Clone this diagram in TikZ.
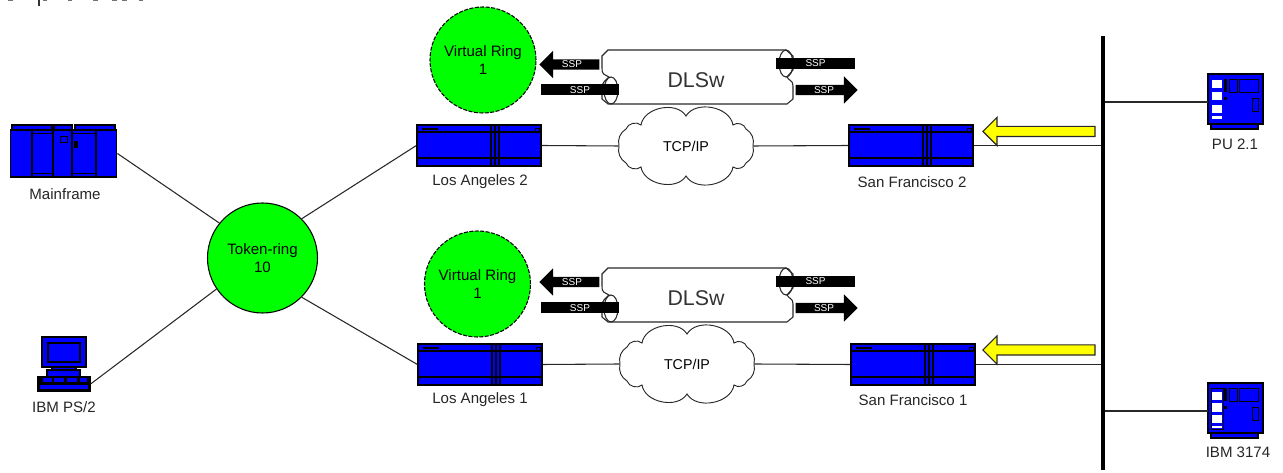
\documentclass[tikz,border=0pt]{standalone}
\usepackage{fontspec}
\setmainfont{Liberation Sans}
\usetikzlibrary{shapes.arrows}

\definecolor{devblue}{RGB}{0,0,255}
\definecolor{ringgreen}{RGB}{0,255,0}
\definecolor{flowyellow}{RGB}{255,255,0}
\definecolor{darkline}{RGB}{40,40,40}

\tikzset{
  devbox/.style={draw=black,fill=devblue,line width=0.9pt,inner sep=0pt},
  devdetail/.style={draw=black,line width=0.9pt},
  link/.style={draw=darkline,line width=0.8pt},
  ringnode/.style={circle,draw=black,fill=ringgreen,line width=0.8pt,inner sep=0pt,minimum size=#1*0.75pt,align=center,font=\fontsize{11.3}{13.5}\selectfont},
  vring/.style={ringnode=#1,dash pattern=on 3pt off 1.1pt},
  devlabel/.style={align=left,text=black!85,font=\fontsize{11.3}{13.5}\selectfont},
  ssparrow/.style={single arrow,fill=black,text=white,inner sep=1pt,minimum height=#1*0.75pt,minimum width=20.25pt,single arrow head extend=6.4pt,single arrow tip angle=90,font=\fontsize{7.5}{8}\selectfont},
  sspbar/.style={rectangle,fill=black,text=white,inner sep=0pt,minimum width=#1*0.75pt,minimum height=8.25pt,font=\fontsize{7.5}{8}\selectfont},
  flowarrow/.style={single arrow,shape border rotate=180,draw=darkline,fill=flowyellow,line width=0.8pt,inner sep=0pt,minimum height=84pt,minimum width=20.25pt,single arrow head extend=6.75pt,single arrow tip angle=90},
  cloudtext/.style={inner sep=0pt,minimum width=100.5pt,minimum height=60pt,font=\fontsize{10.7}{12}\selectfont},
}

% router, #2 #3 = top left corner
\newcommand{\routerunit}[3]{%
\begin{scope}[shift={(#2,#3)}]
\node [devbox,minimum width=93pt,minimum height=30.75pt] (#1) at (62,20.5) {};
\draw [devdetail] (0,7) -- (124,7) ;
\draw [devdetail] (0,33) -- (124,33) ;
\draw [devdetail] (74,0) -- (74,41) (78,0) -- (78,41) (82,0) -- (82,41) ;
\fill (5,3) -- (21,3) -- (21,5) -- (5,5) -- cycle ;
\draw [line width=0.6pt] (118,3) -- (122,3) -- (122,6) -- (118,6) -- cycle ;
\end{scope}}

% controller, #2 #3 = top left corner
\newcommand{\ctrlunit}[3]{%
\begin{scope}[shift={(#2,#3)}]
\draw [devbox] (3,50) -- (50,50) -- (50,55) -- (3,55) -- cycle ;
\node [devbox,minimum width=41.25pt,minimum height=37.5pt] (#1) at (27.5,25) {};
\fill (16,5) -- (19,5) -- (19,18) -- (16,18) -- cycle ;
\draw [devdetail,line width=0.7pt] (21,5) -- (29,5) -- (29,18) -- (21,18) -- cycle ;
\draw [devdetail,line width=0.7pt] (31,5) -- (50,5) -- (50,18) -- (31,18) -- cycle ;
\draw [devdetail,line width=0.7pt] (44,24) -- (50,24) -- (50,37) -- (44,37) -- cycle ;
\fill (16,23) -- (19,23) -- (19,26) -- (16,26) -- cycle ;
\end{scope}}

% tunnel, #2 = top edge
\newcommand{\dlswtube}[2]{%
\begin{scope}[shift={(0,#2)}]
\draw [fill=white,draw=darkline,line width=0.8pt] (608,0) -- (786,0) -- (793,6) -- (793,20) -- (787,27) .. controls (789,31) and (793,30) .. (793,36) -- (793,49) -- (787,54) -- (608,54) -- (602,49) -- (602,38) .. controls (602,32) and (606,30) .. (609,27) .. controls (604,24) and (602,25) .. (602,18) -- (602,6) -- cycle ;
\draw [darkline,line width=0.8pt] (786,13.5) ellipse (7 and 13.5) ;
\draw [darkline,line width=0.8pt] (611,40.5) ellipse (7 and 13.5) ;
\node [font=\fontsize{16}{18}\selectfont,text=black!80] (#1) at (696,30) {DLSw};
\end{scope}}

% cloud, #2 #3 = centre
\newcommand{\tcpcloud}[3]{%
\begin{scope}[shift={(#2,#3)}]
\draw [fill=white,draw=darkline,line width=0.7pt] (-67,0) to[bend right=35] (-60,-17) to[bend right=55] (-45,-21) to[bend right=70] (0,-30) to[bend right=70] (47,-21) to[bend right=55] (60,-17) to[bend right=35] (67,0) to[bend right=35] (60,17) to[bend right=55] (47,21) to[bend right=70] (0,30) to[bend right=70] (-45,21) to[bend right=55] (-60,17) to[bend right=35] (-67,0) -- cycle ;
\node [cloudtext] (#1) at (0,0) {TCP/IP};
\end{scope}}

\begin{document}
\begin{tikzpicture}[x=0.75pt,y=0.75pt,yscale=-1,xscale=1]
\path [use as bounding box] (0,0) rectangle (1283,473);

% cut off heading
\foreach \a/\b in {8/13,43/47,68/72,93/98,112/117,122/127,139/143} {
\fill [black!55] (\a,0) -- (\b,0) -- (\b,1.5) -- (\a,1.5) -- cycle ;
}
\fill [black!80] (37.5,0) -- (40,0) -- (40,6) -- (37.5,6) -- cycle ;

% Mainframe
\node [devbox,minimum width=80pt,minimum height=35.25pt] (mainframe) at (63.5,153.5) {};
\draw [devbox] (12,125) -- (52,125) -- (52,130) -- (12,130) -- cycle ;
\draw [devbox] (54,125) -- (72,125) -- (72,130) -- (54,130) -- cycle ;
\draw [devbox] (75,125) -- (115,125) -- (115,130) -- (75,130) -- cycle ;
\draw [devdetail] (32,130) -- (32,177) (53,125) -- (53,178) (72,125) -- (72,178) (96,130) -- (96,177) ;
\draw [devdetail,line width=0.7pt] (32,133) -- (53,133) (32,173) -- (53,173) (72,133) -- (96,133) (72,173) -- (96,173) ;
\draw [devdetail,line width=0.7pt] (60,136) -- (67,136) -- (67,142) -- (60,142) -- cycle ;
\fill (74,141) -- (77.5,141) -- (77.5,148) -- (74,148) -- cycle ;

% IBM PS/2
\draw [devbox] (42,337) -- (86,337) -- (86,367) -- (42,367) -- cycle ;
\draw [devdetail] (48,343) -- (80,343) -- (80,362) -- (48,362) -- cycle ;
\draw [devbox] (52,367) -- (76,367) -- (76,370) -- (52,370) -- cycle ;
\draw [devbox] (47,370) -- (80,370) -- (80,377) -- (47,377) -- cycle ;
\node [devbox,fill=black,minimum width=39pt,minimum height=11.25pt] (ps2) at (64,384) {};
\fill [devblue] (43,378) -- (52,378) -- (52,382) -- (43,382) -- cycle ;
\fill [devblue] (54,378) -- (64,378) -- (64,382) -- (54,382) -- cycle ;
\fill [devblue] (67,378) -- (77,378) -- (77,382) -- (67,382) -- cycle ;
\fill [devblue] (80,378) -- (87,378) -- (87,382) -- (80,382) -- cycle ;
\fill [devblue] (40,385) -- (88,385) -- (88,389) -- (40,389) -- cycle ;

% Rings
\node [ringnode=110] (token ring) at (262.5,258) {Token-ring\\10};
\node [vring=106] (virtual ring 2) at (483,60) {Virtual Ring\\1};
\node [vring=106] (virtual ring 1) at (477.5,284) {Virtual Ring\\1};

% Routers
\routerunit{la2}{417}{125}
\routerunit{la1}{418}{344}
\routerunit{sf2}{849}{125}
\routerunit{sf1}{851}{344}

% Clouds
\tcpcloud{tcp2}{686}{146}
\tcpcloud{tcp1}{687}{364}

% Tunnels
\dlswtube{dlsw2}{50}
\dlswtube{dlsw1}{268}

% SSP arrows
\node [ssparrow=60,shape border rotate=180] (ssp2a) at (572,64.5) {SSP};
\node [sspbar=78] (ssp2b) at (580,90) {SSP};
\node [sspbar=79] (ssp2c) at (815.5,63.5) {SSP};
\node [ssparrow=62] (ssp2d) at (824,90) {SSP};
\node [ssparrow=60,shape border rotate=180] (ssp1a) at (572,282) {SSP};
\node [sspbar=78] (ssp1b) at (580,308) {SSP};
\node [sspbar=79] (ssp1c) at (815.5,281.5) {SSP};
\node [ssparrow=62] (ssp1d) at (824,308) {SSP};

% Bus
\node [rectangle,fill=black,inner sep=0pt,minimum width=3pt,minimum height=325.5pt] (bus) at (1103,253) {};

% Controllers
\ctrlunit{pu}{1208}{74}
\fill [white] (1212,80) -- (1222,80) -- (1222,88) -- (1212,88) -- cycle ;
\fill [white] (1212,92) -- (1222,92) -- (1222,100) -- (1212,100) -- cycle ;
\fill [white] (1212,105) -- (1222,105) -- (1222,113) -- (1212,113) -- cycle ;
\fill [white] (1212,116) -- (1222,116) -- (1222,119) -- (1212,119) -- cycle ;
\ctrlunit{cu}{1208}{383}
\draw [devdetail,line width=0.7pt] (1211,388) -- (1223,388) -- (1223,429) -- (1211,429) -- cycle ;
\fill [white] (1212,392) -- (1222,392) -- (1222,400) -- (1212,400) -- cycle ;
\fill [white] (1212,403) -- (1222,403) -- (1222,412) -- (1212,412) -- cycle ;
\fill [white] (1212,415) -- (1222,415) -- (1222,423) -- (1212,423) -- cycle ;
\fill [white] (1212,426) -- (1222,426) -- (1222,428) -- (1212,428) -- cycle ;

% Yellow arrows
\node [flowarrow] (flow2) at (1041.5,131.5) {\rule{0pt}{6.75pt}};
\node [flowarrow] (flow1) at (1041.5,350) {\rule{0pt}{6.75pt}};

% Links
\coordinate (pu port) at (1208,102);
\coordinate (cu port) at (1208,411);
\draw [link] (mainframe.east) -- (token ring.141) ;
\draw [link] (ps2.east) -- (token ring.214) ;
\draw [link] (token ring.45) -- (la2.west) ;
\draw [link] (token ring.-45) -- (la1.west) ;
\draw [link] (la2.east) -- (tcp2.west) ;
\draw [link] (tcp2.east) -- (sf2.west) ;
\draw [link] (la1.east) -- (tcp1.west) ;
\draw [link] (tcp1.east) -- (sf1.west) ;
\draw [link] (sf2.east) -- (sf2.east -| bus.west) ;
\draw [link] (sf1.east) -- (sf1.east -| bus.west) ;
\draw [link] (pu port -| bus.east) -- (pu port) ;
\draw [link] (cu port -| bus.east) -- (cu port) ;

% Text Node
\draw (65,194) node (mainframe label) [devlabel] {Mainframe};
% Text Node
\draw (64,407) node (ps2 label) [devlabel] {IBM PS/2};
% Text Node
\draw (480,182) node (la2 label) [devlabel] {Los Angeles 2};
% Text Node
\draw (480,400) node (la1 label) [devlabel] {Los Angeles  1};
% Text Node
\draw (912,182) node (sf2 label) [devlabel] {San Francisco 2};
% Text Node
\draw (913,400) node (sf1 label) [devlabel] {San Francisco 1};
% Text Node
\draw (1235,144) node (pu label) [devlabel] {PU 2.1};
% Text Node
\draw (1238,452) node (cu label) [devlabel] {IBM 3174};

\end{tikzpicture}
\end{document}
